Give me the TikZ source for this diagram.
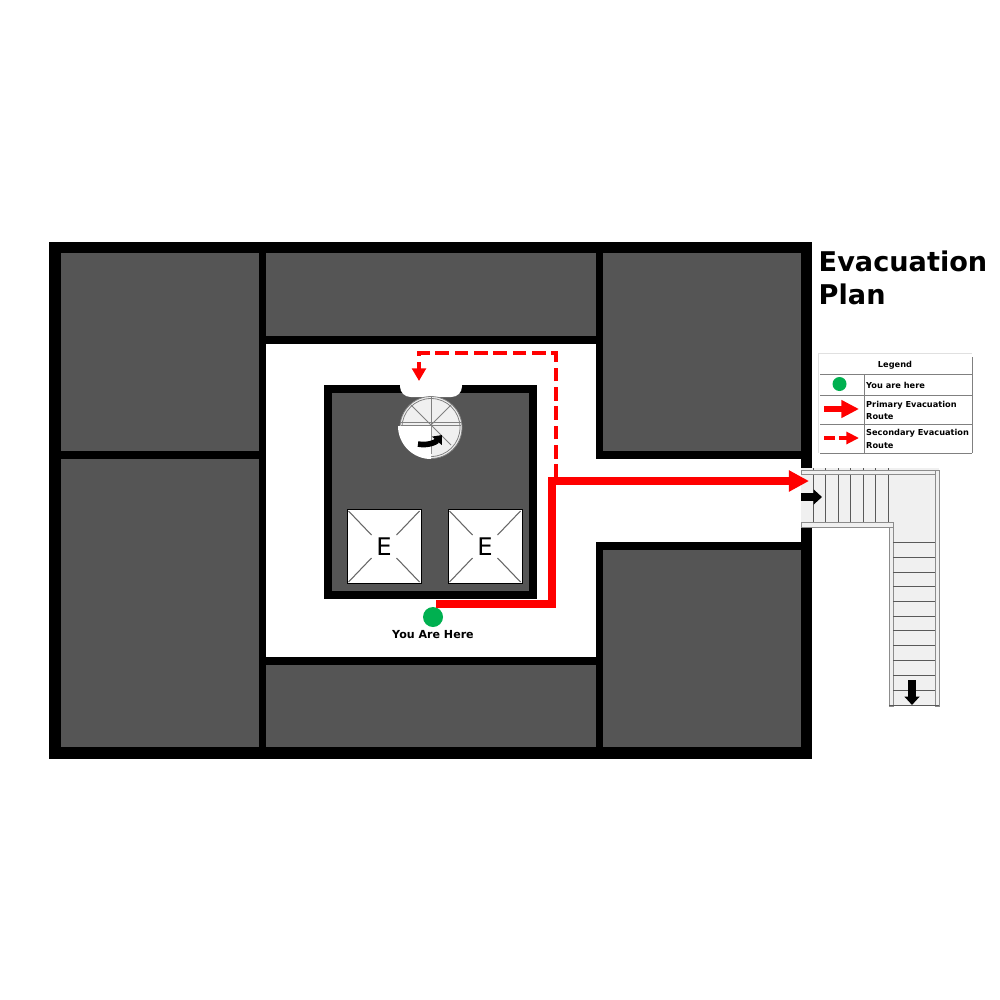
\documentclass[tikz,border=0pt]{standalone}
\usepackage{fontspec}
\setmainfont{DejaVu Sans}
\usetikzlibrary{arrows.meta}
\definecolor{roomgrey}{HTML}{555555}
\definecolor{stairgrey}{HTML}{F0F0F0}
\definecolor{heregreen}{HTML}{00B050}
\tikzset{
	room/.style={fill=roomgrey},
	tread/.style={line width=0.22pt, draw=black!65},
	rail/.style={line width=0.22pt, draw=black!45, fill=stairgrey},
	primary/.style={line width=2pt, red, -{Triangle[length=5.7pt,width=5.7pt]}},
	secondary/.style={line width=1.25pt, red, dash pattern=on 3.9pt off 1.6pt, -{Triangle[length=3.6pt,width=3.9pt]}},
	blackarrow/.style={line width=2.2pt, black, -{Triangle[length=2.4pt,width=4.2pt]}},
	legendline/.style={line width=0.28pt, black!50},
	legendtext/.style={font=\bfseries\fontsize{2.34pt}{3.55pt}\selectfont, inner sep=0pt, anchor=west, align=left},
	liftbox/.style={fill=white, draw=black, line width=0.35pt},
	liftline/.style={line width=0.3pt, black!60}
}
\begin{document}
\begin{tikzpicture}[x=0.01cm, y=-0.01cm]
	\useasboundingbox (0,0) rectangle (1000,1000);
	\fill[white] (0,0) rectangle (1000,1000);
	% building
	\fill[black] (49,242) rectangle (812,759);
	\foreach \xa/\ya/\xb/\yb in {61/253/259/451, 61/459/259/747, 266/253/596/336, 603/253/801/451, 603/550/801/747, 266/665/596/747}
		\fill[room] (\xa,\ya) rectangle (\xb,\yb);
	\fill[white] (266,344) rectangle (596,657);
	\fill[white] (596,459) rectangle (801,542);
	% core
	\fill[black] (324,385) rectangle (537,599);
	\fill[room] (332,393) rectangle (529,591);
	\fill[white, rounded corners=3pt] (400,375) rectangle (462,397);
	\fill[white] (398,370) rectangle (464,385);
	% spiral stair
	\draw[line width=0.22pt, black!50, fill=stairgrey] (431,427.5) circle [radius=31];
	\draw[line width=0.22pt, black!50] (431,427.5) circle [radius=29];
	\foreach \dx/\dy in {0/-28, 20/-20, 29/0, 20/20, 0/29, -20/-20}
		\draw[line width=0.22pt, black!50] (431,425) -- +(\dx,\dy);
	\draw[line width=0.22pt, black!50] (401,422.5) -- (461,422.5);
	\draw[line width=0.22pt, black!50] (401,425.5) -- (461,425.5);
	\fill[white] (431,426) -- (398,426) arc[start angle=180, end angle=90, radius=33] -- cycle;
	\draw[line width=1.6pt, black, -{Triangle[length=2.2pt,width=3.6pt]}] (418,444) .. controls (428,446) and (436,442) .. (442,435);
	% lifts
	\foreach \x/\name in {346.5/a, 447.5/b} {
		\node[liftbox, minimum size=0.74cm, inner sep=0pt, anchor=north west, font=\fontsize{6.9pt}{8pt}\selectfont] (lift\name) at (\x,509) {E};
		\draw[liftline] (\x+2,511) -- (\x+25,535);
		\draw[liftline] (\x+73,511) -- (\x+50,535);
		\draw[liftline] (\x+2,582) -- (\x+25,558);
		\draw[liftline] (\x+73,582) -- (\x+50,558);
	}
	% outside stair
	\fill[stairgrey] (801,468) rectangle (939,528);
	\fill[stairgrey] (889,468) rectangle (939,706);
	\foreach \x in {813,825.5,838,850,863,875,888}
		\draw[tread] (\x,468) -- (\x,528);
	\foreach \y in {542,557,572,586,601,616,630,645,660,675,690}
		\draw[tread] (889,\y) -- (939,\y);
	\draw[rail] (801,470) rectangle (938,474);
	\draw[rail] (935,470) rectangle (939,706);
	\draw[rail] (889,526) rectangle (893,706);
	\draw[rail] (801,522) rectangle (893,527);
	\foreach \y in {542,557,572,586,601,616,630,645,660,675,690}
		\draw[tread] (893,\y) -- (935,\y);
	\draw[tread] (889,705.5) -- (939,705.5);
	\coordinate (stairin) at (801,497);
	\coordinate (stairinend) at (822,497);
	\coordinate (stairout) at (912,680);
	\coordinate (stairoutend) at (912,705);
	\draw[blackarrow] (stairin) -- (stairinend);
	\draw[blackarrow] (stairout) -- (stairoutend);
	% routes
	\node[circle, fill=heregreen, minimum size=0.2cm, inner sep=0pt] (here) at (433,617) {};
	\node[font=\bfseries\fontsize{3.15pt}{4pt}\selectfont, inner sep=0pt] (herelabel) at (433,634.5) {You Are Here};
	\coordinate (start) at (436,604);
	\coordinate (exit) at (809,481);
	\coordinate (branch) at (556,478);
	\coordinate (door) at (419,381);
	\draw[secondary] (branch) -- (556,353) -- (419,353) -- (door);
	\draw[primary] (start) -- (552,604) -- (552,481) -- (exit);
	% title
	\node[font=\bfseries\fontsize{7.72pt}{9.3pt}\selectfont, align=left, inner sep=0pt, anchor=north west] (title) at (818,250) {Evacuation\\Plan};
	% legend
	\draw[line width=0.25pt, black!12] (818,353) -- (972,353);
	\draw[line width=0.25pt, black!12] (818,353) -- (818,453);
	\draw[legendline] (972,357) -- (972,453);
	\foreach \y in {374,395,424,453}
		\draw[legendline] (820,\y) -- (972,\y);
	\draw[legendline] (864,374) -- (864,453);
	\node[legendtext, anchor=center] (legendhead) at (895,365) {Legend};
	\node[circle, fill=heregreen, minimum size=0.14cm, inner sep=0pt] (legenddot) at (839.5,384) {};
	\node[legendtext] (legendhere) at (865.5,385.5) {You are here};
	\node[legendtext] (legendprim) at (865.5,410.5) {Primary Evacuation\\Route};
	\node[legendtext] (legendsec) at (865.5,439) {Secondary Evacuation\\Route};
	\coordinate (primfrom) at (824,409);
	\coordinate (primto) at (859,409);
	\coordinate (secfrom) at (824,438);
	\coordinate (secto) at (859,438);
	\draw[line width=1.5pt, red, -{Triangle[length=5pt,width=4.8pt]}] (primfrom) -- (primto);
	\draw[line width=1pt, red, dash pattern=on 3pt off 1.2pt, -{Triangle[length=3.6pt,width=3.4pt]}] (secfrom) -- (secto);
\end{tikzpicture}
\end{document}
